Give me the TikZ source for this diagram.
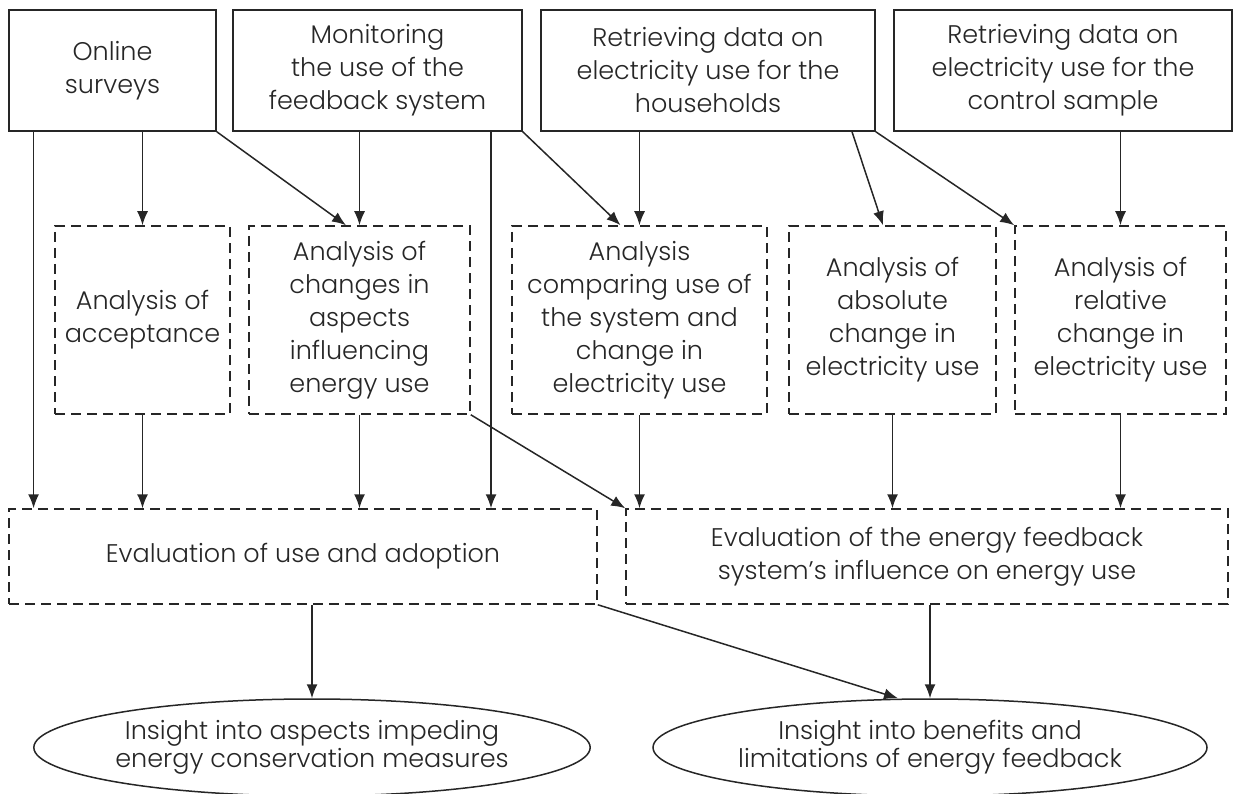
\documentclass[tikz,border=0pt]{standalone}
\usepackage{fontspec}
\setmainfont{Poppins}[UprightFont={* Light}]
\usetikzlibrary{arrows.meta,shapes.geometric}
\definecolor{ink}{HTML}{262626}
\begin{document}
\begin{tikzpicture}[x=1pt,y=-1pt,
  every node/.style={text=ink,align=center,inner sep=0pt,
    font=\fontsize{25.5}{33}\selectfont},
  solidbox/.style={draw=ink,line width=1.5pt,rectangle},
  dashbox/.style={draw=ink,line width=1.5pt,rectangle,dash pattern=on 10pt off 6pt},
  oval/.style={draw=ink,line width=1.5pt,ellipse,
    font=\fontsize{25.5}{28}\selectfont},
  arr/.style={draw=ink,line width=1.5pt,-{Latex[length=14pt,width=11pt]}}]
\useasboundingbox (0,0) rectangle (1237,794);

% data sources
\node[solidbox,minimum width=207,minimum height=121] (b1) at (112.5,70.5) {Online\\surveys};
\node[solidbox,minimum width=289,minimum height=121] (b2) at (377.5,70.5) {Monitoring\\the use of the\\feedback system};
\node[solidbox,minimum width=334,minimum height=121] (b3) at (708,70.5) {Retrieving data on\\electricity use for the\\households};
\node[solidbox,minimum width=338,minimum height=121] (b4) at (1063,70.5) {Retrieving data on\\electricity use for the\\control sample};

% analyses
\node[dashbox,minimum width=175,minimum height=188] (acc) at (142.5,320) {Analysis of\\acceptance};
\node[dashbox,minimum width=221,minimum height=188] (chg) at (359.5,320) {Analysis of\\changes in\\aspects\\influencing\\energy use};
\node[dashbox,minimum width=255,minimum height=188] (cmp) at (639.5,320) {Analysis\\comparing use of\\the system and\\change in\\electricity use};
\node[dashbox,minimum width=207,minimum height=188] (abs) at (892.5,320) {Analysis of\\absolute\\change in\\electricity use};
\node[dashbox,minimum width=211,minimum height=188] (rel) at (1120.5,320) {Analysis of\\relative\\change in\\electricity use};

% evaluations
\node[dashbox,minimum width=588,minimum height=95] (evL) at (303,556.5) {Evaluation of use and adoption};
\node[dashbox,minimum width=602,minimum height=95] (evR) at (927,556.5) {Evaluation of the energy feedback\\system’s influence on energy use};

% insights
\node[oval,minimum width=553,minimum height=97] (inL) at (312,747.5) {Insight into aspects impeding\\energy conservation measures};
\node[oval,minimum width=554,minimum height=97] (inR) at (930,747.5) {Insight into benefits and\\limitations of energy feedback};

% columns of the long vertical connectors
\coordinate (colA) at (33.6,0);
\coordinate (colB) at (491,0);

% from the data sources
\draw[arr] (b1.south -| colA) -- (evL.north -| colA);
\draw[arr] (acc.north |- b1.south) -- (acc.north);
\draw[arr] (b1.south east) -- ([xshift=-13.5pt]chg.north);
\draw[arr] (chg.north |- b2.south) -- (chg.north);
\draw[arr] (b2.south -| colB) -- (evL.north -| colB);
\draw[arr] (b2.south east) -- ([xshift=-19pt]cmp.north);
\draw[arr] (cmp.north |- b3.south) -- (cmp.north);
\draw[arr] ([xshift=144pt]b3.south) -- ([xshift=-9.5pt]abs.north);
\draw[arr] (b3.south east) -- (rel.north west);
\draw[arr] (rel.north |- b4.south) -- (rel.north);

% from the analyses
\draw[arr] (acc.south) -- (evL.north -| acc.south);
\draw[arr] (chg.south) -- (evL.north -| chg.south);
\draw[arr] (chg.south east) -- (evR.north west);
\draw[arr] (cmp.south) -- (evR.north -| cmp.south);
\draw[arr] (abs.south) -- (evR.north -| abs.south);
\draw[arr] (rel.south) -- (evR.north -| rel.south);

% from the evaluations
\draw[arr] (evL.south -| inL.north) -- (inL.north);
\draw[arr] (evL.south east) -- ([xshift=-32pt]inR.north);
\draw[arr] (inR.north |- evR.south) -- (inR.north);
\end{tikzpicture}
\end{document}
